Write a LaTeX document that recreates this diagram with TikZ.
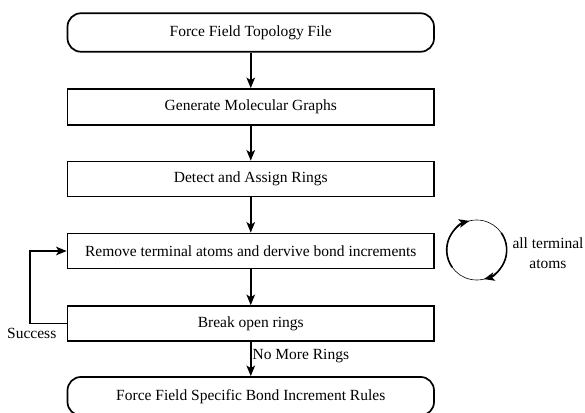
\documentclass[tikz,border=0pt]{standalone}
\usepackage{fontspec}
\setmainfont{Liberation Serif}
\usetikzlibrary{arrows.meta}
\begin{document}
\begin{tikzpicture}[x=1pt,y=-1pt,
  every node/.style={font=\fontsize{15.5}{19.5}\selectfont},
  procbox/.style={draw, line width=1.7pt, minimum width=366.5pt, minimum height=35pt, inner sep=0pt},
  termbox/.style={procbox, rounded corners=13.5pt, minimum height=38.5pt},
  tip/.style={-{Stealth[length=10.5pt,width=8.5pt,inset=2.5pt]}},
  flow/.style={line width=1.7pt, tip},
  lbl/.style={inner sep=1pt}]
\useasboundingbox (0,0) rectangle (585,412);
\clip (0,0) rectangle (585,412);

% main chain
\node[termbox] (topo)  at (250.75,32.5)  {Force Field Topology File};
\node[procbox, minimum height=36pt] (graph) at (250.75,107) {Generate Molecular Graphs};
\node[procbox] (rings) at (250.75,179) {Detect and Assign Rings};
\node[procbox] (term)  at (250.75,251) {Remove terminal atoms and dervive bond increments};
\node[procbox] (brk)   at (250.75,323.5) {Break open rings};
\node[termbox] (rules) at (250.75,396.2) {Force Field Specific Bond Increment Rules};

\draw[flow] (topo) -- (graph);
\draw[flow] (graph) -- (rings);
\draw[flow] (rings) -- (term);
\draw[flow] (term) -- (brk);
\draw[flow] (brk) -- node[lbl, right, pos=0.4] {No More Rings} (rules);

% loop back on success
\coordinate (lc1) at (30,323.5);
\coordinate (lc2) at (30,251);
\draw[flow] (brk.west) -- (lc1) -- (lc2) -- (term.west);
\node[lbl, anchor=north east] (succ) at (57.5,327) {Success};

% repeat-until symbol (y axis points down, so angles are mirrored)
\coordinate (cyc) at (476.7,250);
\draw[line width=0.6pt] (cyc) circle (30);
\draw[line width=1.6pt, tip]
  ([shift={(-215:30)}]cyc) arc[start angle=-215, end angle=-104, radius=30];
\draw[line width=1.6pt, tip]
  ([shift={(-35:30)}]cyc) arc[start angle=-35, end angle=76, radius=30];
\node[align=center, inner sep=0pt] (allt) at (548,253) {all terminal\\atoms};
\end{tikzpicture}
\end{document}
